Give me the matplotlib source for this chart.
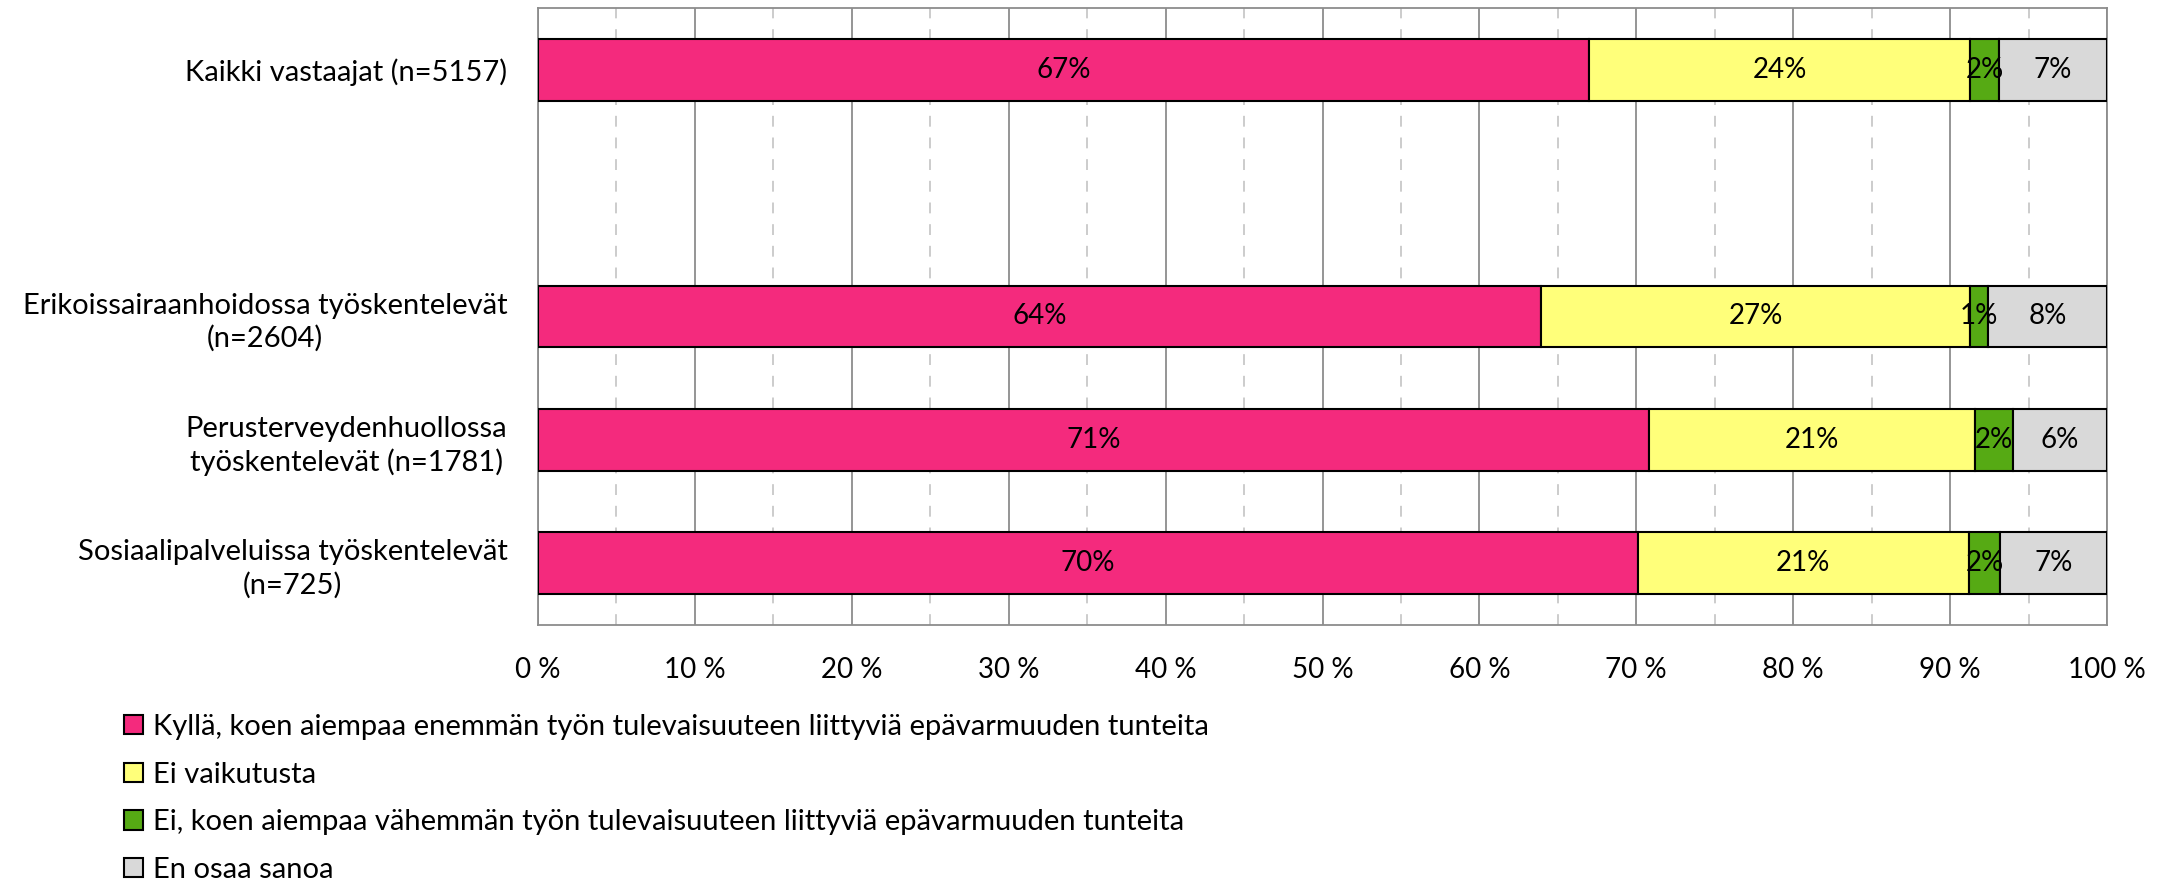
import numpy as np
import matplotlib
matplotlib.use("Agg")
import matplotlib.pyplot as plt
from matplotlib.ticker import MultipleLocator, FuncFormatter

plt.rcParams['font.family'] = ['Lato', 'DejaVu Sans']

# data (percent), one empty row between the total and the groups
categories = [
    "Kaikki vastaajat (n=5157)",
    "",
    "Erikoissairaanhoidossa työskentelevät\n(n=2604)",
    "Perusterveydenhuollossa\ntyöskentelevät (n=1781)",
    "Sosiaalipalveluissa työskentelevät\n(n=725)",
]
kylla = [67.0, np.nan, 63.9, 70.8, 70.1]
ei_vaikutusta = [24.3, np.nan, 27.4, 20.8, 21.1]
ei_vahemman = [1.8, np.nan, 1.1, 2.4, 2.0]
en_osaa = [6.9, np.nan, 7.6, 6.0, 6.8]

series_labels = [
    "Kyllä, koen aiempaa enemmän työn tulevaisuuteen liittyviä epävarmuuden tunteita",
    "Ei vaikutusta",
    "Ei, koen aiempaa vähemmän työn tulevaisuuteen liittyviä epävarmuuden tunteita",
    "En osaa sanoa",
]
series_colors = ["#F42A7D", "#FFFF7A", "#56AA14", "#D9D9D9"]

fs = 21

fig = plt.figure(figsize=(21.77, 8.8), dpi=100)
ax = fig.add_axes([538 / 2177, 1 - 625 / 880, (2107 - 538) / 2177, 617 / 880])

y = np.arange(len(categories))
left = np.zeros(len(categories))
handles = []
for values, label, color in zip([kylla, ei_vaikutusta, ei_vahemman, en_osaa], series_labels, series_colors):
    values = np.array(values, dtype=float)
    ok = ~np.isnan(values)
    bars = ax.barh(y[ok], values[ok], left=left[ok], height=0.5, color=color,
                   edgecolor="black", linewidth=1.5, label=label, zorder=3)
    handles.append(bars)
    for yy, v, l in zip(y[ok], values[ok], left[ok]):
        ax.text(l + v / 2, yy, f"{v:.0f}%", ha="center", va="center", fontsize=20, color="black", zorder=4)
    left[ok] += values[ok]

ax.set_xlim(0, 100)
ax.set_ylim(len(categories) - 0.5, -0.5)
ax.xaxis.set_major_locator(MultipleLocator(10))
ax.xaxis.set_minor_locator(MultipleLocator(5))
ax.xaxis.set_major_formatter(FuncFormatter(lambda v, p: f"{v:.0f} %"))
ax.grid(axis="x", which="major", color="#8C8C8C", linewidth=1.3, zorder=0)
ax.grid(axis="x", which="minor", color="#C8C8C8", linewidth=1.3, linestyle=(0, (6, 6)), zorder=0)
ax.tick_params(axis="x", which="both", length=0, pad=23, labelsize=20)
ax.set_yticks(y)
ax.set_yticklabels(categories, fontsize=fs)
for t in ax.get_yticklabels():
    t.set_multialignment("center")
    t.set_linespacing(1.3)
ax.tick_params(axis="y", length=0, pad=22)
for spine in ax.spines.values():
    spine.set_color("#8C8C8C")
    spine.set_linewidth(1.3)

fig.legend(handles=handles, loc="upper left", bbox_to_anchor=(124 / 2177, 1 - 714 / 880),
           frameon=False, fontsize=fs, ncol=1, labelspacing=0.74, handlelength=0.65,
           handleheight=0.65, handletextpad=0.35, borderpad=0, borderaxespad=0)

fig.savefig("out.png", dpi=100)
